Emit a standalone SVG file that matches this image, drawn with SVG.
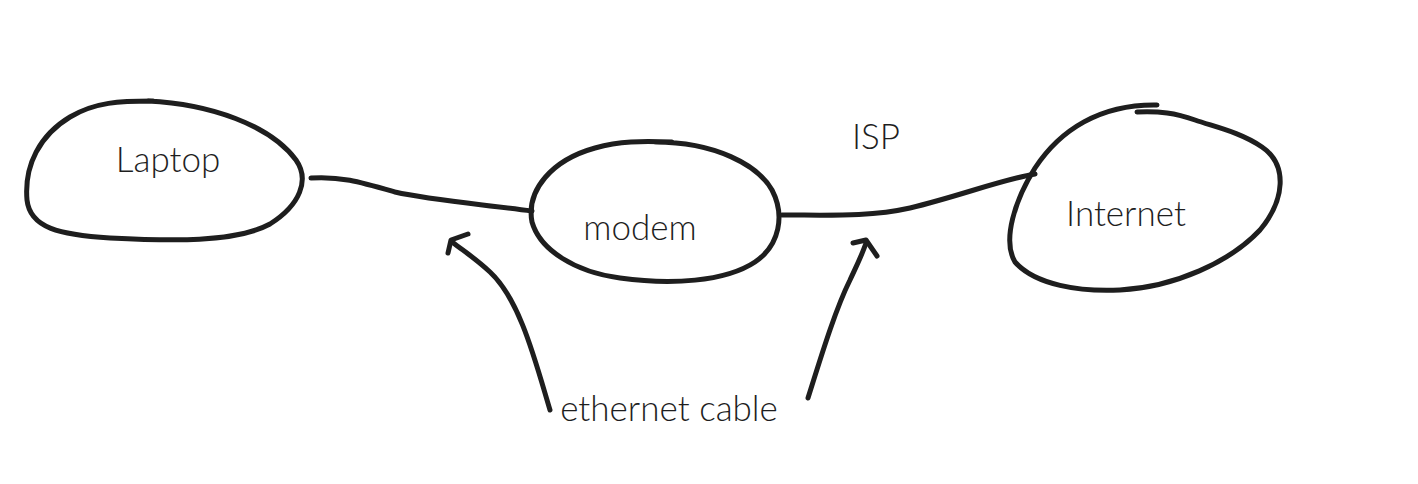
<svg xmlns="http://www.w3.org/2000/svg" width="1418" height="484" viewBox="0 0 1418 484">
<style>
.s{fill:none;stroke:#1e1e1e;stroke-width:5;stroke-linecap:round;stroke-linejoin:round}
.t{font-family:Lato,"Open Sans","Liberation Sans",sans-serif;font-weight:300;fill:#1e1e1e;text-anchor:middle}
</style>
<rect width="1418" height="484" fill="#ffffff"/>
<g id="laptop">
<path class="s" d="M148,101 C210,104 270,125 296,160 C310,180 300,205 270,224 C235,243 170,241 110,238 C60,235 30,228 27,200 C24,165 40,135 70,117 C95,102 120,101 153,101"/>
<text class="t" x="168" y="172" font-size="35">Laptop</text>
</g>
<g id="modem">
<path class="s" d="M655,142 C715,142 758,165 772,190 C785,215 780,245 755,262 C725,282 670,285 620,278 C575,272 540,250 532,222 C526,190 552,160 595,148 C620,141 640,141 672,142"/>
<text class="t" x="640" y="240" font-size="35">modem</text>
</g>
<g id="internet">
<path class="s" d="M1157,105 C1100,104 1060,130 1035,168 C1015,200 1002,240 1015,262 C1035,285 1080,292 1120,290 C1175,287 1230,262 1260,230 C1285,200 1288,165 1262,147 C1240,132 1215,127 1195,120 C1175,113 1160,111 1137,112"/>
<text class="t" x="1126" y="226" font-size="35">Internet</text>
</g>
<g id="isp">
<text class="t" x="876" y="149" font-size="35">ISP</text>
</g>
<g id="ethernet">
<text class="t" x="669" y="421" font-size="35">ethernet cable</text>
</g>
<g id="connectors">
<path class="s" d="M311,178 C340,176 360,182 395,192 C430,200 480,204 532,211"/>
<path class="s" d="M782,215 C830,215 870,217 910,208 C960,196 1000,180 1035,174"/>
<path class="s" d="M550,410 C535,360 520,300 490,272 C475,258 465,252 452,242"/>
<path class="s" d="M468,234 L451,240 L448,253"/>
<path class="s" d="M808,398 C820,360 835,310 850,280 C857,265 862,255 866,243"/>
<path class="s" d="M853,243 L866,240 L877,256"/>
</g>
</svg>
